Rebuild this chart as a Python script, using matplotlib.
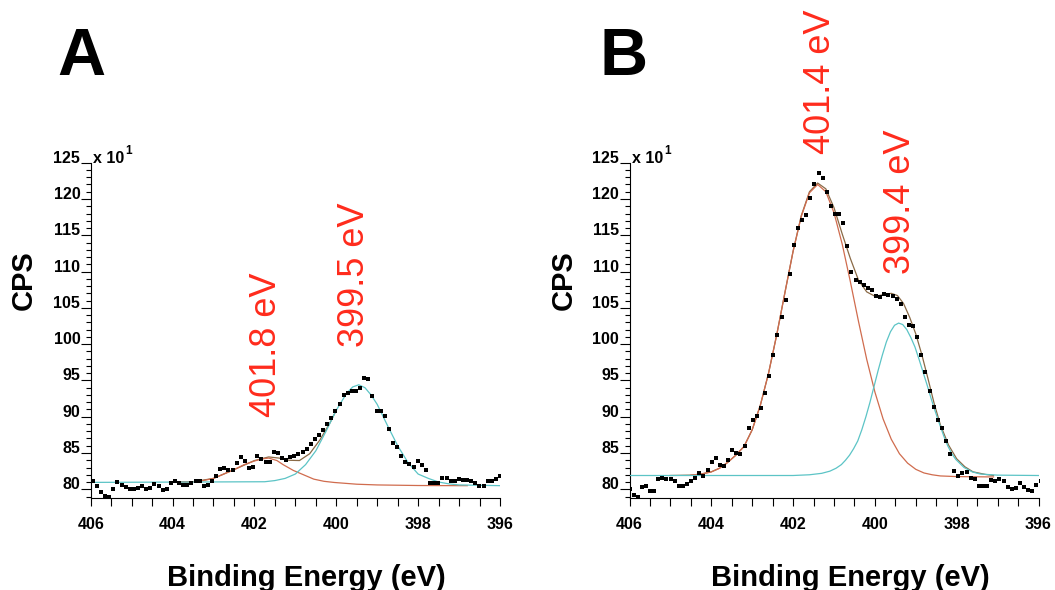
import numpy as np
import matplotlib.pyplot as plt
from matplotlib.ticker import MultipleLocator

plt.rcParams['font.family'] = ['Liberation Sans', 'DejaVu Sans']

a_counts = [81.1, 80.4, 79.6, 79.1, 78.9, 80.0, 81.0, 80.6, 80.3, 80.0,
            80.0, 80.2, 80.5, 80.0, 80.2, 80.7, 80.5, 79.9, 80.0, 80.9,
            81.1, 80.9, 80.6, 80.6, 80.8, 81.1, 81.1, 80.5, 80.6, 81.1,
            81.9, 82.8, 82.9,
            82.7, 82.6, 83.6, 84.4, 83.9, 83.0, 83.1, 84.6, 84.2, 83.8,
            83.8, 85.1, 85.0, 84.3, 84.1, 84.4, 84.6, 84.9, 85.2, 85.5,
            86.2, 86.9, 87.5, 88.2, 89.0, 89.8, 90.8, 91.7, 93.0, 93.3,
            93.6, 93.6, 94.0, 95.4,
            95.2, 92.8, 90.8, 90.8, 90.1, 88.3, 86.4, 85.8, 84.6, 83.8,
            83.5, 83.1, 83.9, 83.3, 82.6, 80.9, 80.8, 80.9, 81.6, 81.6,
            81.2, 81.2, 81.4, 81.3, 81.3, 81.2, 80.9, 80.4, 80.5, 81.1,
            81.2, 81.4, 81.8]
a_energy = np.linspace(405.95, 396.0, len(a_counts))

# fitted components, panel A
a_cyan_x = [406.0, 401.75, 401.5, 401.25, 401.0, 400.75, 400.5, 400.25, 400.0,
            399.75, 399.6, 399.45, 399.3, 399.15, 399.0, 398.75, 398.5, 398.25, 398.0,
            397.75, 397.5, 397.25, 397.0, 396.0]
a_cyan_y = [80.95, 81.04, 81.2, 81.5, 82.1, 83.4, 85.3, 88.0, 90.9,
            93.2, 94.1, 94.4, 94.0, 93.0, 91.7, 88.8, 86.0, 83.7, 82.1,
            81.5, 81.0, 80.75, 80.6, 80.5]
a_red_x = [404.0, 403.5, 403.25, 403.0, 402.75, 402.5, 402.25, 402.0, 401.8,
           401.65, 401.45, 401.3, 401.05, 400.8, 400.55, 400.3, 400.05,
           399.5, 399.0, 398.0, 397.0, 396.8]
a_red_y = [81.0, 81.04, 81.2, 81.5, 82.1, 82.7, 83.4, 83.9, 84.2,
           84.3, 83.96, 83.4, 82.6, 82.0, 81.4, 81.1, 80.94,
           80.7, 80.6, 80.52, 80.5, 80.5]
a_env_x = [404.0, 403.5, 403.0, 402.5, 402.0, 401.65, 401.4, 401.15, 400.9,
           400.65, 400.4, 400.15, 400.0]
a_env_y = [81.0, 81.04, 81.5, 82.7, 83.96, 84.46, 84.3, 84.0, 83.96,
           84.9, 86.8, 89.2, 90.9]

# ---- panel B ----
b_counts = [80.0, 79.2, 79.0, 80.3, 80.5, 79.7, 79.8, 81.4, 81.6, 81.4,
            81.4, 81.2, 80.4, 80.5, 80.7, 81.1, 81.5, 82.3, 81.9, 82.6,
            83.8, 84.3, 83.4, 83.2, 84.0, 85.4, 85.0, 84.8, 86.0, 88.4,
            89.6, 90.1, 91.2, 93.2,
            95.6, 98.5, 101.3, 103.7, 106.1, 109.7, 113.7, 116.0, 117.1, 117.8,
            120.1, 122.1, 123.6, 122.9, 121.0, 119.1, 118.0, 117.9, 116.7, 113.5,
            110.0, 108.9, 108.5, 108.2, 107.7, 107.5, 106.6, 106.5, 106.9, 106.8,
            106.6, 106.2,
            105.5, 103.8, 102.6, 102.5, 101.0, 98.5, 96.1, 93.6, 91.3, 89.5,
            88.4, 86.6, 84.9, 82.5, 81.9, 82.2, 82.4, 81.5, 81.4, 80.4,
            80.5, 80.4, 81.3, 81.2, 81.4, 81.1, 80.3, 80.0, 80.2, 80.9,
            80.3, 79.9, 79.7, 80.6, 81.2]
b_energy = np.linspace(406.0, 395.95, len(b_counts))

b_cyan_x = [406.0, 402.0, 401.6, 401.3, 401.1, 400.95, 400.82, 400.72, 400.62,
            400.52, 400.42, 400.32,
            400.22, 400.12, 400.02, 399.92, 399.82, 399.72, 399.62, 399.52, 399.42,
            399.32, 399.22, 399.12, 399.02, 398.92, 398.82, 398.72, 398.62, 398.52,
            398.42, 398.32, 398.22, 398.12, 398.02, 397.82, 397.62, 397.42, 397.0, 396.0]
b_cyan_y = [81.9, 81.9, 82.0, 82.2, 82.5, 82.9, 83.4, 84.0, 84.7,
            85.6, 86.65, 88.2,
            90.0, 92.0, 94.2, 96.4, 98.45, 100.3, 101.7, 102.6, 102.9,
            102.7, 102.0, 100.9, 99.6, 97.9, 96.1, 94.3, 92.4, 90.65,
            89.0, 87.4, 86.0, 84.9, 84.1, 83.0, 82.4, 82.1, 81.95, 81.9]
b_red_x = [404.5, 404.25, 404.0, 403.8, 403.6, 403.4, 403.2, 403.0, 402.8,
           402.6, 402.4, 402.2, 402.0, 401.8, 401.6, 401.4, 401.2, 401.0,
           400.8, 400.6, 400.4, 400.2, 400.0, 399.8, 399.6, 399.4, 399.2,
           399.0, 398.8, 398.6, 398.4, 398.0, 397.1]
b_red_y = [81.95, 82.1, 82.4, 82.9, 83.7, 84.7, 85.9, 88.2, 91.6,
           96.0, 101.3, 107.1, 112.8, 117.6, 120.85, 122.0, 121.0, 118.1,
           113.8, 108.6, 103.1, 97.9, 93.4, 89.7, 86.9, 84.9, 83.6,
           82.75, 82.25, 82.0, 81.84, 81.75, 81.7]
b_env_x = [405.0, 404.5, 404.25, 404.0, 403.8, 403.6, 403.4, 403.2, 403.0,
           402.8, 402.6, 402.4, 402.2, 402.0, 401.8, 401.6, 401.4, 401.2,
           401.0, 400.8, 400.6, 400.4, 400.2, 400.0, 399.8, 399.6, 399.45,
           399.3, 399.15, 399.0, 398.85, 398.7, 398.55, 398.4, 398.2, 398.0,
           397.8, 397.6, 397.3, 397.1]
b_env_y = [81.9, 81.95, 82.1, 82.4, 82.9, 83.7, 84.7, 85.9, 88.2,
           91.6, 96.0, 101.3, 107.1, 112.8, 117.7, 121.0, 122.2, 121.4,
           118.8, 115.2, 111.8, 108.8, 107.2, 106.6, 106.8, 107.0, 106.7,
           105.6, 103.7, 101.4, 98.5, 95.2, 91.8, 88.9, 86.1, 84.2,
           83.1, 82.4, 82.05, 81.9]

W, H = 1055, 590
CYAN = '#5cc4c6'
ORANGE = '#d06c4e'
ENV = '#8a6a46'
RED = '#ff2b1c'


def draw_panel(ax, energy, counts, cx, cy, rx, ry, ex, ey):
    ax.plot(ex, ey, color=ENV, lw=0.9, zorder=1)
    ax.plot(rx, ry, color=ORANGE, lw=0.9, zorder=2)
    ax.plot(cx, cy, color=CYAN, lw=0.9, zorder=3)
    ax.plot(energy, counts, 's', color='black', ms=3.1, mew=0, zorder=4)

    ax.set_xlim(406, 396)
    ax.set_ylim(78.8, 125)
    ax.spines['top'].set_visible(False)
    ax.spines['right'].set_visible(False)
    for s in ['left', 'bottom']:
        ax.spines[s].set_linewidth(0.8)
    ax.xaxis.set_major_locator(MultipleLocator(2))
    ax.xaxis.set_minor_locator(MultipleLocator(0.5))
    ax.yaxis.set_major_locator(MultipleLocator(5))
    ax.yaxis.set_minor_locator(MultipleLocator(1))
    ax.tick_params(axis='x', which='both', length=5.5, width=0.8, pad=8, labelsize=11.5)
    ax.tick_params(axis='y', which='major', length=7, width=0.8, pad=0.5, labelsize=11.5)
    ax.tick_params(axis='y', which='minor', length=3.5, width=0.8)
    for lbl in ax.get_xticklabels():
        lbl.set_fontweight('bold')
    for lbl in ax.get_yticklabels():
        lbl.set_fontweight('bold')
        lbl.set_verticalalignment('baseline')

    # axis multiplier
    ax.annotate('x 10', xy=(0, 1), xycoords='axes fraction', xytext=(1.5, 0),
                textcoords='offset points', ha='left', va='baseline',
                fontsize=11.5, fontweight='bold')
    ax.annotate('1', xy=(0, 1), xycoords='axes fraction', xytext=(25, 6.5),
                textcoords='offset points', ha='left', va='baseline',
                fontsize=8.5, fontweight='bold')


fig = plt.figure(figsize=(W / 100, H / 100), dpi=100)
ax_a = fig.add_axes([90.7 / W, 1 - 498 / H, 409.3 / W, 335.3 / H])
ax_b = fig.add_axes([629.5 / W, 1 - 498 / H, 409.0 / W, 335.3 / H])

draw_panel(ax_a, a_energy, a_counts, a_cyan_x, a_cyan_y, a_red_x, a_red_y, a_env_x, a_env_y)
draw_panel(ax_b, b_energy, b_counts, b_cyan_x, b_cyan_y, b_red_x, b_red_y, b_env_x, b_env_y)

# panel letters, axis titles
fig.text(57 / W, 1 - 75 / H, 'A', fontsize=48, fontweight='bold', ha='left', va='baseline')
fig.text(600 / W, 1 - 75 / H, 'B', fontsize=48, fontweight='bold', ha='left', va='baseline')
for cx in [24, 564]:
    fig.text(cx / W, 1 - 280 / H, 'CPS', rotation=90, fontsize=21, fontweight='bold',
             ha='center', va='center')
for cx in [306, 850]:
    fig.text(cx / W, 4 / H, 'Binding Energy (eV)', fontsize=21, fontweight='bold',
             ha='center', va='baseline')

# peak labels
peak_labels = ['401.8 eV', '399.5 eV', '401.4 eV', '399.4 eV']
label_pos = [(266, 345), (355, 275), (820, 82), (900, 202)]
for txt, (px, py) in zip(peak_labels, label_pos):
    fig.text(px / W, 1 - py / H, txt, rotation=90, color=RED, fontsize=26,
             ha='center', va='center')

fig.savefig('out.png', dpi=100)
